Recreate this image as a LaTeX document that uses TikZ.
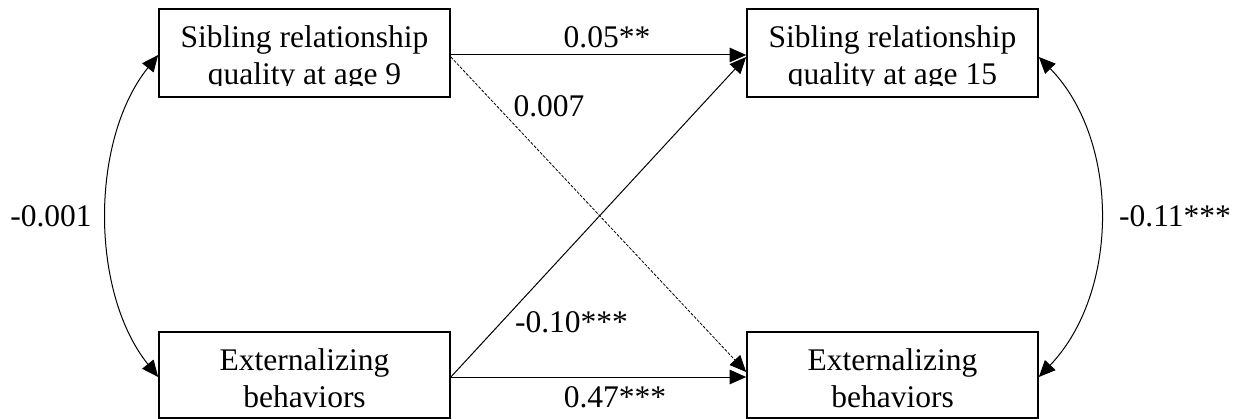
\documentclass[tikz,border=0pt]{standalone}
\usepackage{fontspec}
\setmainfont{Liberation Serif}
\usetikzlibrary{arrows.meta}
\tikzset{
  tip/.style={Triangle[length=16.5pt,width=14.5pt]},
  box/.style={draw, line width=1.7pt, minimum width=291pt, minimum height=88pt, inner sep=0pt},
  boxtext/.style={align=center, inner sep=0pt, anchor=north, font=\fontsize{31.5}{37}\selectfont},
  lab/.style={inner sep=0pt, anchor=base, font=\fontsize{31.5}{37}\selectfont},
  pth/.style={line width=1pt, -{Triangle[length=16.5pt,width=14.5pt]}},
  dpth/.style={line width=0.8pt, dash pattern=on 3pt off 1.5pt, -{Triangle[length=16.5pt,width=14.5pt]}},
  cov/.style={line width=1pt, {Triangle[length=16.5pt,width=14.5pt]}-{Triangle[length=16.5pt,width=14.5pt]}}
}
\begin{document}
\begin{tikzpicture}[x=1pt,y=-1pt]
\useasboundingbox (0,0) rectangle (1238,419);
% boxes
\node[box] (tl) at (304.5,53) {};
\node[box, minimum height=86pt] (bl) at (304.5,375) {};
\node[box] (tr) at (892.5,53) {};
\node[box, minimum height=86pt] (br) at (892.5,375) {};
% box texts (top ones clipped just under the second baseline, as in the original)
\begin{scope}
\clip (0,0) rectangle (1238,86);
\node[boxtext] (tltext) at (304.5,25.5) {Sibling relationship\\quality at age 9};
\node[boxtext] (trtext) at (892.5,25.5) {Sibling relationship\\quality at age 15};
\end{scope}
\node[boxtext] (bltext) at (304.5,348.5) {Externalizing\\behaviors};
\node[boxtext] (brtext) at (892.5,348.5) {Externalizing\\behaviors};
% paths
\draw[pth] ([yshift=-2pt]tl.east) -- ([yshift=-2pt]tr.west);
\draw[pth] ([yshift=-2pt]bl.east) -- ([yshift=-2pt]br.west);
\draw[pth] ([yshift=-2pt]bl.east) -- ([yshift=-4pt]tr.west);
\draw[dpth] ([yshift=-4pt]tl.east) -- ([yshift=3pt]br.west);
% covariances
\draw[cov] ([yshift=-2pt]tl.west) .. controls (90,140) and (90,292) .. ([yshift=-2pt]bl.west);
\draw[cov] ([yshift=-4pt]tr.east) .. controls (1120,140) and (1120,292) .. ([yshift=-2pt]br.east);
% labels
\node[lab] (l1) at (607,48) {0.05**};
\node[lab] (l2) at (549,117) {0.007};
\node[lab] (l3) at (571.5,332) {-0.10***};
\node[lab] (l4) at (615,407) {0.47***};
\node[lab] (l5) at (51,227) {-0.001};
\node[lab] (l6) at (1175,227) {-0.11***};
\end{tikzpicture}
\end{document}
